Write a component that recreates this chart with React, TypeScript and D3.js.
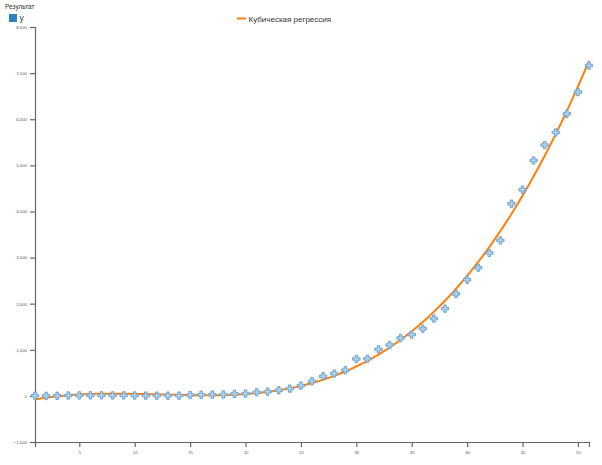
import React, { useEffect, useRef } from "react";
import * as d3 from "d3";

const xValues: number[] = d3.range(1, 52);
const yValues: number[] = [
  2, 0, 3, 8, 10, 12, 12, 10, 11, 9,
  6, 5, 4, 6, 18, 25, 28, 30, 43, 50,
  78, 93, 122, 158, 223, 317, 426, 483, 556, 801,
  805, 1010, 1105, 1256, 1328, 1458, 1675, 1892, 2210, 2520,
  2780, 3099, 3372, 4168, 4471, 5106, 5440, 5713, 6118, 6589,
  7165,
];
const yTicks: number[] = d3.range(-1000, 8001, 1000);
const xTicks: number[] = [5, 10, 15, 20, 25, 30, 35, 40, 45, 50];
const legendTitle = "Результат";
const seriesName = "y";
const regressionName = "Кубическая регрессия";

function cubicFit(xs: number[], ys: number[]) {
  const mx = d3.mean(xs) as number;
  const n = 4;
  const A: number[][] = Array.from({ length: n }, () => new Array(n + 1).fill(0));
  xs.forEach((x0, i) => {
    const x = x0 - mx;
    const p = [1, x, x * x, x * x * x];
    for (let r = 0; r < n; r++) {
      for (let c = 0; c < n; c++) A[r][c] += p[r] * p[c];
      A[r][n] += p[r] * ys[i];
    }
  });
  for (let c = 0; c < n; c++) {
    let piv = c;
    for (let r = c + 1; r < n; r++) if (Math.abs(A[r][c]) > Math.abs(A[piv][c])) piv = r;
    [A[c], A[piv]] = [A[piv], A[c]];
    for (let r = 0; r < n; r++) {
      if (r === c) continue;
      const f = A[r][c] / A[c][c];
      for (let k = c; k <= n; k++) A[r][k] -= f * A[c][k];
    }
  }
  const coef = A.map((row, i) => row[n] / row[i]);
  return (x0: number) => {
    const x = x0 - mx;
    return coef[0] + coef[1] * x + coef[2] * x * x + coef[3] * x * x * x;
  };
}

export default function App() {
  const ref = useRef<SVGSVGElement>(null);
  useEffect(() => {
    const svg = d3.select(ref.current);
    svg.selectAll("*").remove();
    const x = d3.scaleLinear().domain([1, 51]).range([35, 589]);
    const y = d3.scaleLinear().domain([-1000, 8000]).range([442, 27]);

    const xAxis = svg
      .append("g")
      .attr("transform", "translate(0,442)")
      .call(d3.axisBottom(x).tickValues(xTicks).tickSize(5));
    const yAxis = svg
      .append("g")
      .attr("transform", "translate(35,0)")
      .call(d3.axisLeft(y).tickValues(yTicks).tickFormat(d3.format(",")).tickSize(5));
    [xAxis, yAxis].forEach((g) => {
      g.selectAll("path, line").attr("stroke", "#666").attr("stroke-width", 1.2);
      g.selectAll("text")
        .attr("fill", "#555")
        .attr("font-size", 4.3)
        .attr("font-family", "Arial, 'Liberation Sans', sans-serif");
    });
    xAxis.selectAll("text").attr("dy", "0.9em");

    const fit = cubicFit(xValues, yValues);
    const line = d3
      .line<number>()
      .x((d) => x(d))
      .y((d) => y(fit(d)))
      .curve(d3.curveMonotoneX);
    const xs = d3.range(1, 51.01, 0.25);
    svg
      .append("path")
      .datum(xs)
      .attr("d", line)
      .attr("fill", "none")
      .attr("stroke", "#ff7f0e")
      .attr("stroke-width", 2);

    const sym = d3.symbol().type(d3.symbolCross).size(30);
    svg
      .append("g")
      .selectAll("path")
      .data(xValues)
      .join("path")
      .attr("transform", (d, i) => `translate(${x(d)},${y(yValues[i])})`)
      .attr("d", sym() as string)
      .attr("fill", "#aed0ea")
      .attr("stroke", "#6fa3cf")
      .attr("stroke-width", 1);

    const font = "Arial, 'Liberation Sans', sans-serif";
    svg
      .append("text")
      .attr("x", 5)
      .attr("y", 9)
      .attr("font-size", 6.5)
      .attr("font-family", font)
      .attr("fill", "#333")
      .text(legendTitle);
    svg
      .append("rect")
      .attr("x", 9)
      .attr("y", 14)
      .attr("width", 8)
      .attr("height", 8)
      .attr("fill", "#3182bd");
    svg
      .append("text")
      .attr("x", 19.5)
      .attr("y", 21)
      .attr("font-size", 8.5)
      .attr("font-family", font)
      .attr("fill", "#333")
      .text(seriesName);
    svg
      .append("line")
      .attr("x1", 237)
      .attr("x2", 246)
      .attr("y1", 18.5)
      .attr("y2", 18.5)
      .attr("stroke", "#ff7f0e")
      .attr("stroke-width", 2);
    svg
      .append("text")
      .attr("x", 248.5)
      .attr("y", 21.5)
      .attr("font-size", 8)
      .attr("font-family", font)
      .attr("fill", "#333")
      .text(regressionName);
  }, []);
  return (
    <svg
      ref={ref}
      width={602}
      height={465}
      style={{ position: "absolute", left: 0, top: 0, background: "#fff" }}
    />
  );
}
